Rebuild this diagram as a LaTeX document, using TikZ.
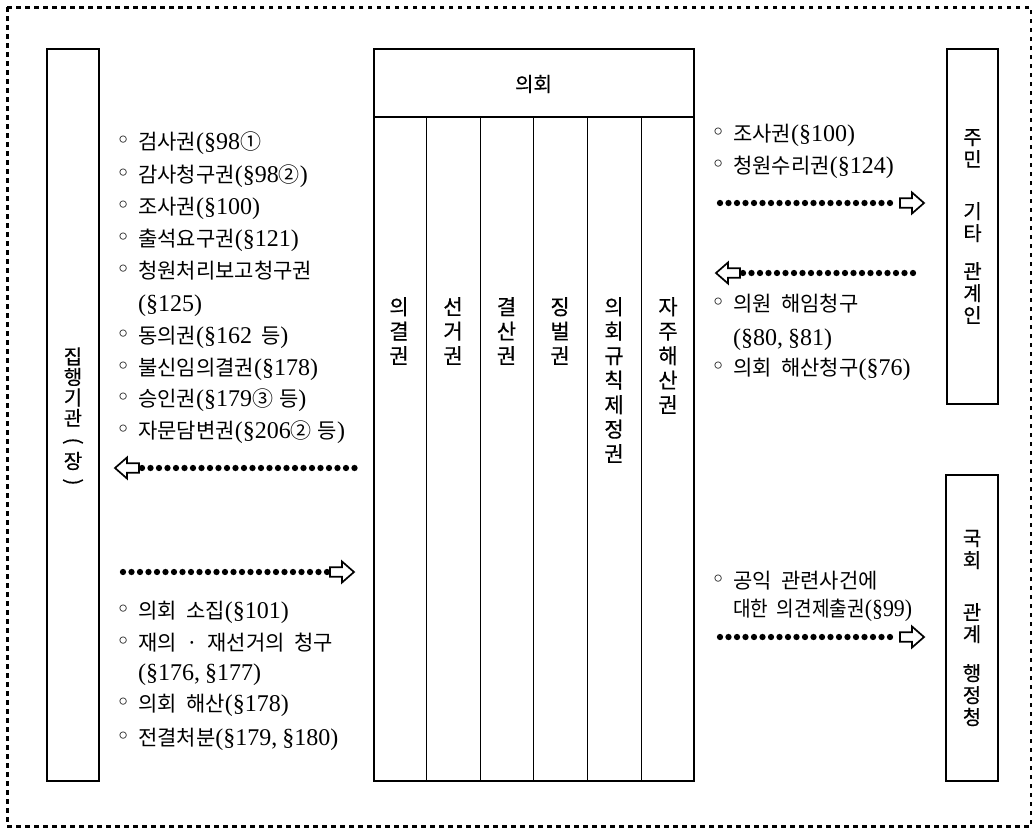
\documentclass[tikz,border=0pt]{standalone}
\usepackage{fontspec}
\usepackage{graphicx}
\setmainfont{Liberation Serif}
\newfontfamily\krfont[WordSpace=2]{Noto Sans CJK KR}
\newfontfamily\krlab[FakeBold=0.4]{Noto Sans CJK KR}
\newfontfamily\dvfont{DejaVu Sans}
\newcommand\KR[1]{{\krfont\fontsize{21}{32}\selectfont #1}}
\newcommand\bul{\makebox[20pt][l]{\hspace*{-2pt}\raisebox{0.5pt}{\dvfont\fontsize{24}{24}\selectfont ◦}}}
\newcommand\contind{\hspace*{20pt}}
\tikzset{
  outerframe/.style={line width=3pt, dash pattern=on 4.5pt off 4.5pt},
  box/.style={draw, line width=2pt, inner sep=0pt},
  vlab/.style={align=center, inner sep=0pt, font=\krlab\fontsize{20}{22}\selectfont},
  execlab/.style={align=center, inner sep=0pt, font=\krlab\fontsize{20}{20.5}\selectfont},
  collab/.style={align=center, inner sep=0pt, anchor=north, font=\krlab\fontsize{21}{24.5}\selectfont},
  item/.style={anchor=base west, inner sep=0pt, font=\fontsize{24}{32}\selectfont},
  dotline/.style={line width=6.3pt, line cap=round, dash pattern=on 0pt off 8.5pt},
  thinline/.style={line width=1pt},
  hollowhead/.pic={\draw[line width=1.7pt, fill=white, line join=miter]
     (-24,-4.8) -- (-12,-4.8) -- (-12,-10.5) -- (0,0) -- (-12,10.5) -- (-12,4.8) -- (-24,4.8) -- cycle;}
}
\begin{document}
\begin{tikzpicture}[x=1pt,y=-1pt]
\useasboundingbox (0,0) rectangle (1032,828);
\draw[outerframe] (7,7) rectangle (1031,826);

% left box
\node[box, minimum width=52pt, minimum height=732pt] (exec) at (73,415) {};
\node[execlab] (execl) at (73,387) {집\\행\\기\\관};
\node[execlab, rotate=-90] (execp1) at (73,441) {(};
\node[execlab] (execj) at (73,461) {장};
\node[execlab, rotate=-90] (execp2) at (73,482) {)};

% council box
\node[box, minimum width=320pt, minimum height=732pt] (council) at (533.5,415) {};
\coordinate (hl) at (373,117);
\coordinate (hr) at (694,117);
\draw[line width=1.5pt] (hl) -- (hr);
\node[inner sep=0pt, font=\krlab\fontsize{20}{24}\selectfont] (ctitle) at (533.5,84) {의회};
\foreach \xx in {426,480,533,587,641}{
  \draw[thinline] (\xx,117) -- (\xx,781);
}
\node[collab] (c1) at (399,297) {의\\결\\권};
\node[collab] (c2) at (453,297) {선\\거\\권};
\node[collab] (c3) at (506.5,297) {결\\산\\권};
\node[collab] (c4) at (560,297) {징\\벌\\권};
\node[collab] (c5) at (614,297) {의\\회\\규\\칙\\제\\정\\권};
\node[collab] (c6) at (668,297) {자\\주\\해\\산\\권};

% right boxes
\node[box, minimum width=51pt, minimum height=355pt] (resid) at (972.5,226.5) {};
\node[vlab] (residl) at (resid.center)
  {주\\민\\[30pt]기\\타\\[16pt]관\\계\\인};
\node[box, minimum width=52pt, minimum height=306pt] (natl) at (972,628) {};
\node[vlab] (natll) at (natl.center)
  {국\\회\\[30pt]관\\계\\[17pt]행\\정\\청};

% left upper list
\node[item] (l1) at (118,149) {\bul\KR{검사권}(§98\KR{①}};
\node[item] (l2) at (118,182) {\bul\KR{감사청구권}(§98\KR{②})};
\node[item] (l3) at (118,214) {\bul\KR{조사권}(§100)};
\node[item] (l4) at (118,246) {\bul\KR{출석요구권}(§121)};
\node[item] (l5) at (118,278) {\bul\KR{청원처리보고청구권}};
\node[item] (l6) at (118,311) {\contind(§125)};
\node[item] (l7) at (118,343) {\bul\KR{동의권}(§162\hspace{9pt}\KR{등})};
\node[item] (l8) at (118,375) {\bul\KR{불신임의결권}(§178)};
\node[item] (l9) at (118,406) {\bul\KR{승인권}(§179\KR{③}\hspace{6pt}\KR{등})};
\node[item] (l10) at (118,438) {\bul\KR{자문담변권}(§206\KR{②}\hspace{6pt}\KR{등})};

% left lower list
\node[item] (m1) at (118,618) {\bul\KR{의회 소집}(§101)};
\node[item] (m2) at (118,650) {\bul\KR{재의 · 재선거의 청구}};
\node[item] (m3) at (118,680) {\contind(§176,\hspace{5pt}§177)};
\node[item] (m4) at (118,711) {\bul\KR{의회 해산}(§178)};
\node[item] (m5) at (118,745) {\bul\KR{전결처분}(§179,\hspace{5pt}§180)};

% right upper list
\node[item] (r1) at (713,141) {\bul\KR{조사권}(§100)};
\node[item] (r2) at (713,173) {\bul\KR{청원수리권}(§124)};
\node[item] (r3) at (713,311) {\bul\KR{의원 해임청구}};
\node[item] (r4) at (713,345) {\contind(§80,\hspace{5pt}§81)};
\node[item] (r5) at (713,375) {\bul\KR{의회 해산청구}(§76)};

% right lower list
\node[item] (s1) at (713,588) {\bul\KR{공익 관련사건에}};
\node[item] (s2) at (713,616) {\contind\scalebox{0.91}[1]{\KR{대한 의견제출권}(§99)}};

% arrows
\coordinate (aAtip) at (115,468);
\coordinate (aAs) at (142,468);
\coordinate (aAe) at (355,468);
\draw[dotline] (aAs) -- (aAe);
\pic[rotate=180] at (aAtip) {hollowhead};

\coordinate (aBs) at (123,572);
\coordinate (aBe) at (327,572);
\coordinate (aBtip) at (354,572);
\draw[dotline] (aBs) -- (aBe);
\pic at (aBtip) {hollowhead};

\coordinate (aCs) at (720,203);
\coordinate (aCe) at (897,203);
\coordinate (aCtip) at (924,203);
\draw[dotline] (aCs) -- (aCe);
\pic at (aCtip) {hollowhead};

\coordinate (aDtip) at (716,273);
\coordinate (aDs) at (743,273);
\coordinate (aDe) at (919,273);
\draw[dotline] (aDs) -- (aDe);
\pic[rotate=180] at (aDtip) {hollowhead};

\coordinate (aEs) at (720,637);
\coordinate (aEe) at (897,637);
\coordinate (aEtip) at (924,637);
\draw[dotline] (aEs) -- (aEe);
\pic at (aEtip) {hollowhead};
\end{tikzpicture}
\end{document}
